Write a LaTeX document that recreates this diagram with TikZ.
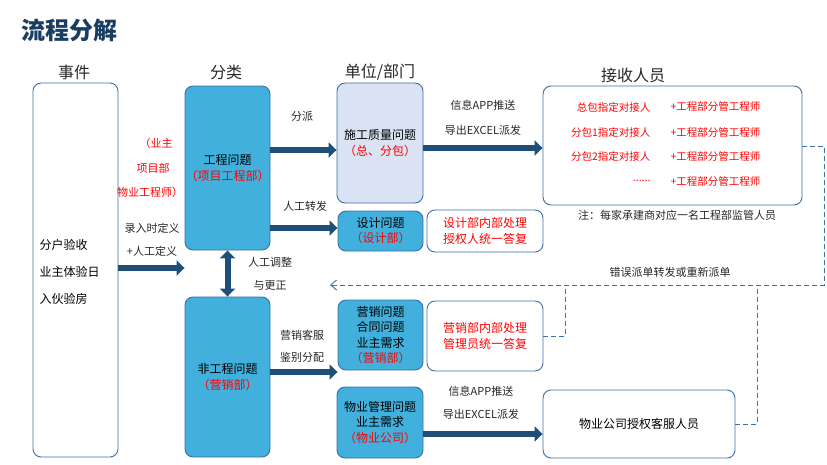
\documentclass[tikz,border=0pt]{standalone}
\usepackage{fontspec}
\setmainfont{Noto Sans CJK SC}
\usetikzlibrary{arrows.meta}
\definecolor{dk}{HTML}{1F4E79}
\definecolor{bl}{HTML}{41B0DC}
\definecolor{bd}{HTML}{3A6FA8}
\definecolor{lt}{HTML}{DAE3F3}
\definecolor{rd}{HTML}{FF0000}
\tikzset{
 box/.style={draw=bd,line width=0.9pt,rounded corners=8pt,inner sep=0pt},
 wbox/.style={box,fill=white},
 bbox/.style={box,fill=bl},
 big/.style={dk,line width=6pt,-{Triangle[width=15pt,length=8pt]}},
 dbl/.style={dk,line width=6pt,{Triangle[width=15pt,length=8pt]}-{Triangle[width=15pt,length=8pt]}},
 dsh/.style={bd,line width=0.9pt,dash pattern=on 5pt off 3pt},
 lbl/.style={font=\fontsize{11}{13}\selectfont,text=black!85,align=center},
 hd/.style={font=\fontsize{16}{18}\selectfont,text=black!85},
 tx/.style={font=\fontsize{12}{16}\selectfont,align=center},
 rt/.style={font=\fontsize{10.5}{13}\selectfont,text=rd}
}
\begin{document}
\begin{tikzpicture}[x=1pt,y=-1pt]
\useasboundingbox (0,0) rectangle (827,464);
\node[font=\bfseries\fontsize{24}{26}\selectfont,text=dk!80!black] (title) at (69,30) {流程分解};
\node[hd] (h1) at (74,72) {事件};
\node[hd] (h2) at (226,72) {分类};
\node[hd] (h3) at (380,72) {单位/部门};
\node[hd] (h4) at (633,75) {接收人员};
% boxes
\node[wbox,minimum width=85pt,minimum height=374pt] (ev) at (75.5,270) {};
\node[tx,align=left,anchor=west,font=\fontsize{12}{27}\selectfont] (evt) at (36,272) {分户验收\\业主体验日\\入伙验房};
\node[bbox,minimum width=85pt,minimum height=164pt,tx] (eng) at (227.5,168) {工程问题\\\textcolor{rd}{（项目工程部）}};
\node[bbox,minimum width=85pt,minimum height=160pt,tx] (neng) at (227.5,377) {非工程问题\\\textcolor{rd}{（营销部）}};
\node[box,fill=lt,minimum width=86pt,minimum height=120pt,tx] (sg) at (380,143) {施工质量问题\\\textcolor{rd}{（总、分包）}};
\node[bbox,minimum width=85pt,minimum height=40pt,tx,font=\fontsize{12}{15}\selectfont] (sj) at (380.5,231) {设计问题\\\textcolor{rd}{（设计部）}};
\node[wbox,minimum width=116pt,minimum height=42pt,tx,text=rd,font=\fontsize{12}{16}\selectfont] (sjn) at (485,231) {设计部内部处理\\授权人统一答复};
\node[bbox,minimum width=85pt,minimum height=70pt,tx,font=\fontsize{12}{15.5}\selectfont] (yx) at (380.5,335) {营销问题\\合同问题\\业主需求\\\textcolor{rd}{（营销部）}};
\node[wbox,minimum width=116pt,minimum height=70pt,tx,text=rd,font=\fontsize{12}{16}\selectfont] (yxn) at (485,336) {营销部内部处理\\管理员统一答复};
\node[bbox,minimum width=86pt,minimum height=71pt,tx,font=\fontsize{12}{15.5}\selectfont] (wy) at (380,422.5) {物业管理问题\\业主需求\\\textcolor{rd}{（物业公司）}};
\node[wbox,minimum width=259pt,minimum height=119pt] (rc) at (672.5,145.5) {};
\node[wbox,minimum width=192pt,minimum height=68pt,tx] (wyg) at (639,424) {物业公司授权客服人员};
% receivers contents
\node[rt,anchor=east] (r1) at (654,107) {总包指定对接人};
\node[rt,anchor=east] (r2) at (654,132) {分包1指定对接人};
\node[rt,anchor=east] (r3) at (654,156) {分包2指定对接人};
\node[rt,anchor=east] (r4) at (654,181) {......};
\foreach \y in {107,132,156,181}
  \node[rt,anchor=west] at (667,\y) {+工程部分管工程师};
\node[lbl] (note) at (677,215) {注：每家承建商对应一名工程部监管人员};
% arrows
\draw[big] (ev.east |- 0,268) -- (eng.west |- 0,268);
\draw[big] (eng.east |- 0,150) -- (sg.west |- 0,150);
\draw[big] (eng.east |- 0,228) -- (sj.west |- 0,228);
\draw[big] (neng.east |- 0,372) -- (yx.west |- 0,372);
\draw[big] (sg.east |- 0,148) -- (rc.west |- 0,148);
\draw[big] (wy.east |- 0,434) -- (wyg.west |- 0,434);
\draw[dbl] (eng.south) -- (neng.north);
% labels
\node[lbl] at (302,116) {分派};
\node[lbl] at (305,206) {人工转发};
\node[lbl] at (302,335) {营销客服};
\node[lbl] at (302,357) {鉴别分配};
\node[lbl] at (483,105) {信息APP推送};
\node[lbl] at (483,130) {导出EXCEL派发};
\node[lbl] at (481,391) {信息APP推送};
\node[lbl] at (481,414) {导出EXCEL派发};
\node[lbl] at (152,228) {录入时定义};
\node[lbl] at (152,251) {+人工定义};
\node[lbl,text=rd] at (156,143) {（业主};
\node[lbl,text=rd] at (153,168) {项目部};
\node[lbl,text=rd] at (150,192) {物业工程师）};
\node[lbl] at (270,262) {人工调整};
\node[lbl] at (270,285) {与更正};
\node[lbl] (err) at (670,272) {错误派单转发或重新派单};
% dashed
\coordinate (d1) at (824,285);
\coordinate (tip) at (330,285);
\draw[dsh,-{Straight Barb[length=6pt,width=10pt]}] (rc.east |- 0,146) -- (824,146) -- (d1) -- (tip);
\draw[dsh] (yxn.east) -- (565,336) -- (565,285);
\draw[dsh] (wyg.east) -- (757,424) -- (757,285);
\end{tikzpicture}
\end{document}
